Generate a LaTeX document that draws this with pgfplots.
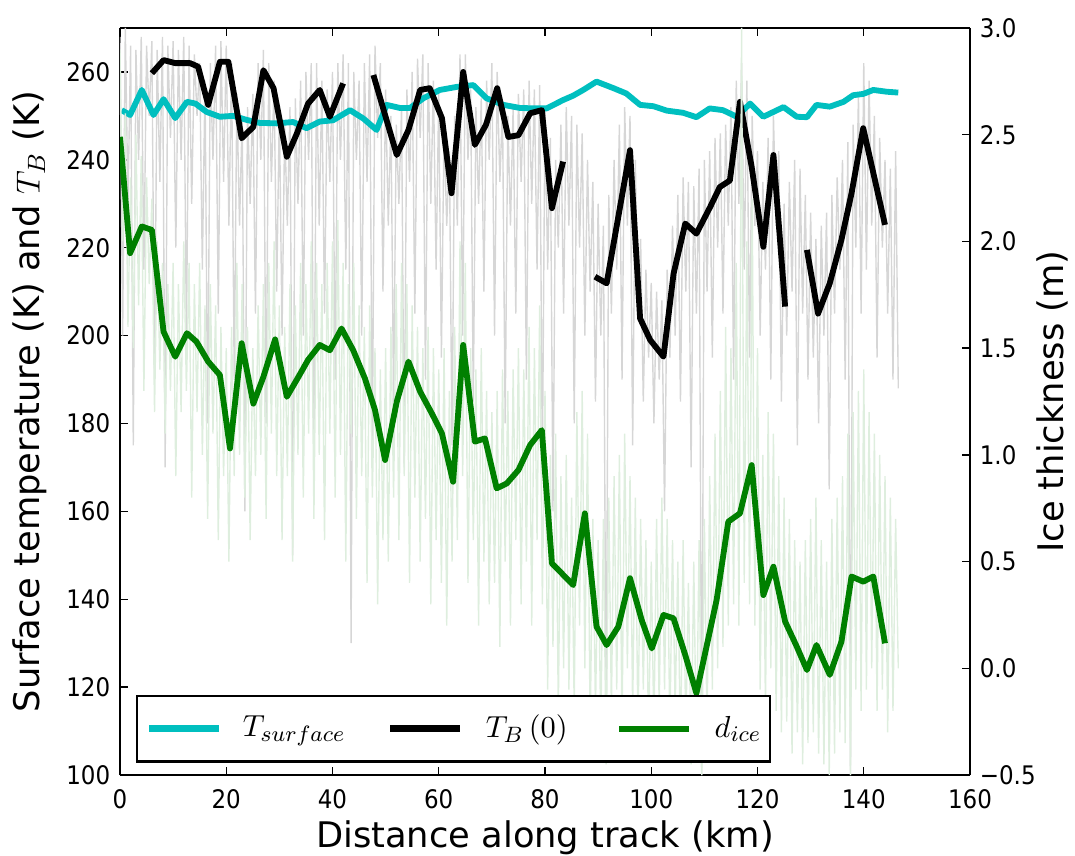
\documentclass[border=0pt]{standalone}
\usepackage{pgfplots}
\pgfplotsset{compat=1.18}
\usepackage{fontspec}
\setmainfont{DejaVu Sans}
\newfontfamily\tickfont{DejaVu Sans Condensed}
\definecolor{mplcyan}{RGB}{0,191,191}
\definecolor{mplgreen}{RGB}{0,128,0}
\definecolor{rawgray}{RGB}{214,214,214}
\definecolor{rawgreen}{RGB}{222,238,222}

\pgfplotstableread{
x y
0 268
0.5 200
1 270
1.5 230
2 266
2.5 175
3 265
3.5 240
4 268
4.5 215
5 266
5.5 250
6 267
6.5 190
7 265
7.5 235
8 268
8.5 170
9 266
9.5 245
10 267
10.5 220
11 265
11.5 240
12 268
12.5 200
13 266
13.5 230
14 264
14.5 250
15 262
15.5 215
16 258
16.5 180
17 262
17.5 240
18 266
18.5 205
19 267
19.5 235
20 266
20.5 225
21 262
21.5 190
22 255
22.5 225
23 250
23.5 160
24 252
24.5 230
25 255
25.5 205
26 262
26.5 240
27 265
27.5 180
28 262
28.5 235
29 258
29.5 210
30 252
30.5 200
31 248
31.5 225
32 252
32.5 150
33 254
33.5 230
34 258
34.5 200
35 260
35.5 240
36 262
36.5 170
37 262
37.5 225
38 258
38.5 205
39 256
39.5 235
40 260
40.5 190
41 262
41.5 240
42 264
42.5 215
43 262
43.5 130
44 260
44.5 240
45 258
45.5 200
46 262
46.5 235
47 264
47.5 175
48 266
48.5 245
49 262
49.5 210
50 256
50.5 225
51 250
51.5 185
52 248
52.5 230
53 252
53.5 170
54 256
54.5 235
55 260
55.5 205
56 263
56.5 245
57 264
57.5 190
58 262
58.5 230
59 258
59.5 215
60 255
60.5 195
61 248
61.5 225
62 242
62.5 175
63 250
63.5 225
64 264
64.5 200
65 264
65.5 240
66 256
66.5 185
67 252
67.5 230
68 254
68.5 210
69 258
69.5 240
70 262
70.5 200
71 260
71.5 235
72 252
72.5 180
73 250
73.5 225
74 252
74.5 205
75 255
75.5 235
76 256
76.5 190
77 258
77.5 230
78 256
78.5 215
79 257
79.5 170
80 252
80.5 215
81 245
81.5 160
82 240
82.5 220
83 248
83.5 205
84 252
84.5 225
85 250
85.5 180
86 248
86.5 220
87 246
87.5 200
88 240
88.5 210
89 235
89.5 185
90 230
90.5 200
91 225
91.5 110
92 232
92.5 205
93 240
93.5 215
94 248
94.5 190
95 252
95.5 225
96 250
96.5 175
97 240
97.5 205
98 222
98.5 185
99 215
99.5 195
100 212
100.5 180
101 210
101.5 190
102 208
102.5 160
103 215
103.5 195
104 225
104.5 200
105 232
105.5 185
106 236
106.5 210
107 235
107.5 170
108 234
108.5 205
109 238
109.5 100
110 240
110.5 210
111 242
111.5 195
112 245
112.5 220
113 246
113.5 205
114 248
114.5 225
115 252
115.5 190
116 258
116.5 230
117 262
117.5 215
118 258
118.5 195
119 250
119.5 225
120 242
120.5 200
121 235
121.5 215
122 245
122.5 190
123 250
123.5 225
124 242
124.5 185
125 230
125.5 200
126 235
126.5 210
127 240
127.5 175
128 238
128.5 205
129 232
129.5 190
130 228
130.5 195
131 222
131.5 180
132 225
132.5 200
133 228
133.5 165
134 232
134.5 205
135 236
135.5 215
136 240
136.5 190
137 244
137.5 100
138 248
138.5 220
139 255
139.5 205
140 262
140.5 215
141 258
141.5 225
142 250
142.5 195
143 245
143.5 220
144 240
144.5 205
145 238
145.5 190
146 242
146.5 188
}\grayraw

\pgfplotstableread{
x y
0 2.9
0.5 2.0
1 2.6
1.5 1.6
2 2.3
2.5 1.5
3 2.5
3.5 1.7
4 2.4
4.5 1.3
5 2.3
5.5 1.8
6 2.2
6.5 1.2
7 2.0
7.5 1.4
8 1.9
8.5 1.1
9 1.8
9.5 1.3
10 1.9
10.5 0.9
11 1.8
11.5 1.2
12 2.0
12.5 1.3
13 1.9
13.5 0.8
14 1.8
14.5 1.2
15 1.9
15.5 1.0
16 1.7
16.5 0.7
17 1.8
17.5 1.1
18 1.7
18.5 0.6
19 1.6
19.5 0.9
20 1.5
20.5 0.5
21 1.6
21.5 0.9
22 1.9
22.5 1.0
23 1.8
23.5 0.8
24 1.6
24.5 0.6
25 1.5
25.5 0.9
26 1.7
26.5 1.0
27 1.8
27.5 0.7
28 1.9
28.5 1.1
29 2.0
29.5 0.9
30 1.7
30.5 0.6
31 1.6
31.5 0.9
32 1.8
32.5 0.5
33 1.7
33.5 1.0
34 1.9
34.5 0.8
35 1.8
35.5 1.1
36 2.0
36.5 0.7
37 1.9
37.5 1.0
38 1.8
38.5 0.6
39 1.9
39.5 1.1
40 2.0
40.5 0.8
41 2.1
41.5 1.0
42 1.9
42.5 0.5
43 1.8
43.5 1.1
44 1.9
44.5 0.7
45 1.7
45.5 0.9
46 1.6
46.5 0.4
47 1.7
47.5 0.8
48 1.5
48.5 0.3
49 1.4
49.5 0.6
50 1.5
50.5 0.5
51 1.6
51.5 0.8
52 1.8
52.5 0.6
53 1.9
53.5 0.9
54 1.8
54.5 0.4
55 1.7
55.5 0.8
56 1.6
56.5 0.5
57 1.5
57.5 0.7
58 1.6
58.5 0.3
59 1.5
59.5 0.6
60 1.4
60.5 0.4
61 1.5
61.5 0.2
62 1.3
62.5 0.5
63 1.6
63.5 0.6
64 2.0
64.5 0.9
65 1.9
65.5 0.4
66 1.5
66.5 0.6
67 1.4
67.5 0.2
68 1.5
68.5 0.5
69 1.3
69.5 0.3
70 1.2
70.5 0.4
71 1.3
71.5 0.1
72 1.4
72.5 0.5
73 1.3
73.5 0.2
74 1.4
74.5 0.6
75 1.5
75.5 0.3
76 1.4
76.5 0.5
77 1.6
77.5 0.2
78 1.5
78.5 0.6
79 1.7
79.5 0.3
80 1.3
80.5 -0.1
81 1.0
81.5 0.1
82 1.1
82.5 -0.2
83 0.9
83.5 0.0
84 1.0
84.5 -0.1
85 0.8
85.5 -0.2
86 1.2
86.5 0.2
87 1.3
87.5 0.0
88 1.1
88.5 -0.3
89 0.7
89.5 -0.2
90 0.6
90.5 -0.3
91 0.7
91.5 -0.45
92 0.8
92.5 -0.2
93 0.9
93.5 -0.1
94 1.0
94.5 -0.3
95 1.1
95.5 0.0
96 0.9
96.5 -0.2
97 0.8
97.5 -0.3
98 0.7
98.5 -0.1
99 0.6
99.5 -0.35
100 0.5
100.5 -0.3
101 0.7
101.5 -0.2
102 0.8
102.5 -0.1
103 0.7
103.5 -0.3
104 0.6
104.5 -0.2
105 0.5
105.5 -0.4
106 0.6
106.5 -0.3
107 0.4
107.5 -0.45
108 0.5
108.5 -0.4
109 0.6
109.5 -0.5
110 0.7
110.5 -0.3
111 0.9
111.5 -0.1
112 1.1
112.5 0.0
113 1.3
113.5 0.1
114 1.6
114.5 0.2
115 1.5
115.5 0.3
116 1.9
116.5 0.2
117 3.0
117.5 0.4
118 2.0
118.5 0.3
119 2.2
119.5 0.2
120 1.5
120.5 -0.1
121 1.0
121.5 -0.2
122 1.2
122.5 0.0
123 1.1
123.5 -0.2
124 0.9
124.5 -0.3
125 0.8
125.5 -0.25
126 0.7
126.5 -0.4
127 0.6
127.5 -0.3
128 0.5
128.5 -0.45
129 0.6
129.5 -0.35
130 0.7
130.5 -0.3
131 0.8
131.5 -0.4
132 0.6
132.5 -0.45
133 0.5
133.5 -0.5
134 0.7
134.5 -0.4
135 0.8
135.5 -0.3
136 0.9
136.5 -0.35
137 1.1
137.5 -0.5
138 1.2
138.5 -0.1
139 1.3
139.5 -0.2
140 1.4
140.5 -0.1
141 1.2
141.5 0.0
142 1.1
142.5 -0.2
143 1.0
143.5 -0.1
144 0.9
144.5 -0.3
145 0.8
145.5 -0.2
146 0.7
146.5 0.0
}\greenraw

\pgfplotstableread{
x y
0.3 251.3
1.9 250.2
4.1 255.9
6.3 250.2
8.2 253.8
10.4 249.5
12.6 253.2
14.2 252.8
16.3 250.9
18.8 249.8
21.3 250.0
23.8 249.1
26.3 248.4
29.5 248.3
32.6 248.6
35.1 247.2
37.6 248.7
40.1 249.0
43.3 251.3
45.8 249.4
48.3 246.8
50.2 252.5
52.7 251.8
54.6 251.8
57.1 254.0
60.2 255.9
63.4 256.6
66.5 257.0
69.0 254.0
72.2 252.5
75.3 251.8
78.4 251.7
80.3 251.7
83.4 253.6
85.3 254.6
87.2 255.9
89.7 257.8
92.9 256.3
95.3 255.1
97.9 252.5
100.4 252.2
102.9 251.2
106.0 250.7
108.5 249.7
111.0 251.7
113.5 251.3
116.1 249.8
118.6 252.8
121.1 249.8
124.9 252.0
127.4 249.8
129.3 249.7
131.1 252.5
133.6 252.1
136.2 253.2
138.0 254.7
139.9 255.0
141.8 255.9
144.3 255.5
146.5 255.3
}\tsurf

\pgfplotstableread{
x y
6.0 259.7
8.2 262.7
10.4 262.0
13.2 262.0
14.7 261.2
16.6 252.5
18.8 262.3
20.4 262.3
22.9 244.9
25.1 247.5
27.0 260.4
28.9 256.3
31.4 240.7
33.3 246.0
35.4 252.8
37.6 255.9
39.5 249.8
42.0 257.4
45.0 nan
47.7 259.3
52.1 241.1
54.3 246.8
56.5 255.9
58.3 256.3
60.6 249.5
62.4 232.4
64.6 260.0
66.8 243.4
68.9 248.0
71.0 256.3
73.1 245.2
75.0 245.6
77.2 250.6
79.4 251.3
81.3 229.0
83.4 239.6
86.0 nan
89.4 213.4
91.6 211.9
96.0 242.2
97.9 203.9
99.8 199.0
102.3 195.2
104.2 214.1
106.4 225.5
108.5 223.2
111.1 229.3
112.9 233.8
114.8 235.3
116.7 253.2
118.9 238.4
121.1 220.2
123.0 241.1
125.2 206.6
127.0 nan
129.3 219.5
131.4 205.0
133.6 211.9
135.8 221.8
137.7 232.4
139.9 247.2
142.1 235.4
144.0 225.2
}\tb

\pgfplotstableread{
x y
0.0 2.49
1.9 1.945
4.1 2.07
6.0 2.054
8.2 1.577
10.4 1.46
12.6 1.57
14.4 1.53
16.6 1.437
18.8 1.374
20.7 1.03
22.9 1.523
25.1 1.24
27.0 1.366
29.2 1.541
31.4 1.272
33.6 1.366
35.4 1.445
37.6 1.515
39.5 1.49
41.7 1.592
43.9 1.49
46.1 1.358
48.0 1.21
49.9 0.976
52.1 1.25
54.3 1.437
56.5 1.296
58.7 1.194
60.6 1.1
62.7 0.874
64.6 1.515
66.8 1.062
68.7 1.077
70.9 0.843
72.8 0.866
75.0 0.929
77.2 1.046
79.4 1.116
81.3 0.492
85.3 0.39
87.5 0.726
89.7 0.195
91.6 0.109
93.8 0.195
96.0 0.422
98.2 0.226
100.1 0.093
102.3 0.25
104.2 0.234
106.4 0.062
108.5 -0.117
110.4 0.101
112.3 0.32
114.5 0.687
116.7 0.726
118.9 0.952
121.1 0.343
123.0 0.476
125.2 0.219
127.4 0.101
129.3 -0.008
131.1 0.109
133.6 -0.031
135.8 0.125
137.7 0.43
139.9 0.406
141.8 0.43
144.0 0.117
}\dice

\begin{document}
\begin{tikzpicture}
\pgfplotsset{
  every axis/.append style={
    scale only axis, width=306pt, height=268.92pt,
    xmin=0, xmax=160,
    tick align=inside, major tick length=3pt,
    tick style={black, line width=0.5pt},
    axis line style={line width=0.8pt},
    every tick label/.append style={font=\tickfont\fontsize{9.2}{10}\selectfont},
    /pgf/number format/assume math mode=true,
    label style={font=\fontsize{12.7}{15}\selectfont},
  },
}
\begin{axis}[
  name=ax1,
  ymin=100, ymax=270,
  axis y line*=left,
  xtick={0,20,...,160}, ytick={100,120,...,260},
  xticklabel style={yshift=-1.6pt},
  xlabel={Distance along track (km)},
  ylabel={Surface temperature (K) and $T_B$ (K)},
  xlabel style={at={(axis description cs:0.5,0)}, anchor=center, yshift=-22.5pt},
  ylabel style={at={(axis description cs:-0.106,0.5)}, anchor=center},
  unbounded coords=jump,
]
\addplot[rawgray, line width=0.5pt] table {\grayraw};
\addplot[mplcyan, line width=2.1pt, line join=round] table {\tsurf};
\addplot[black, line width=2.1pt, line join=round] table {\tb};
\end{axis}
\begin{axis}[
  ymin=-0.5, ymax=3,
  axis y line*=right, axis x line=none,
  ytick={-0.5,0,0.5,1,1.5,2,2.5,3},
  yticklabels={−0.5,0.0,0.5,1.0,1.5,2.0,2.5,3.0},
  ylabel={Ice thickness (m)},
  ylabel style={at={(axis description cs:1.0965,0.5)}, anchor=center},
  legend columns=3,
  legend image code/.code={\draw[#1] (0pt,0pt) -- (25pt,0pt);},
  legend style={at={(rel axis cs:0.0188,0.0165)}, anchor=south west,
    draw=black, line width=0.8pt, inner xsep=3.2pt, inner ysep=7pt,
    font=\fontsize{11}{13}\selectfont,
    nodes={inner xsep=0pt, inner ysep=0pt},
    /tikz/column sep=0pt,
  },
]
\addlegendimage{mplcyan, line width=2.3pt}
\addlegendentry{\hspace{7.6pt}$T_{surface}$\rule{15pt}{0pt}}
\addlegendimage{black, line width=2.3pt}
\addlegendentry{\hspace{8.2pt}$T_B\,(0)$\rule{17.5pt}{0pt}}
\addplot[rawgreen, line width=0.5pt, forget plot] table {\greenraw};
\addplot[mplgreen, line width=2.1pt, line join=round] table {\dice};
\addlegendentry{\hspace{8.3pt}$d_{ice}$}
\end{axis}
\pgfresetboundingbox
\path ([shift={(-43.2pt,-28.8pt)}]ax1.south west) rectangle ([shift={(37.8pt,10.08pt)}]ax1.north east);
\end{tikzpicture}
\end{document}
